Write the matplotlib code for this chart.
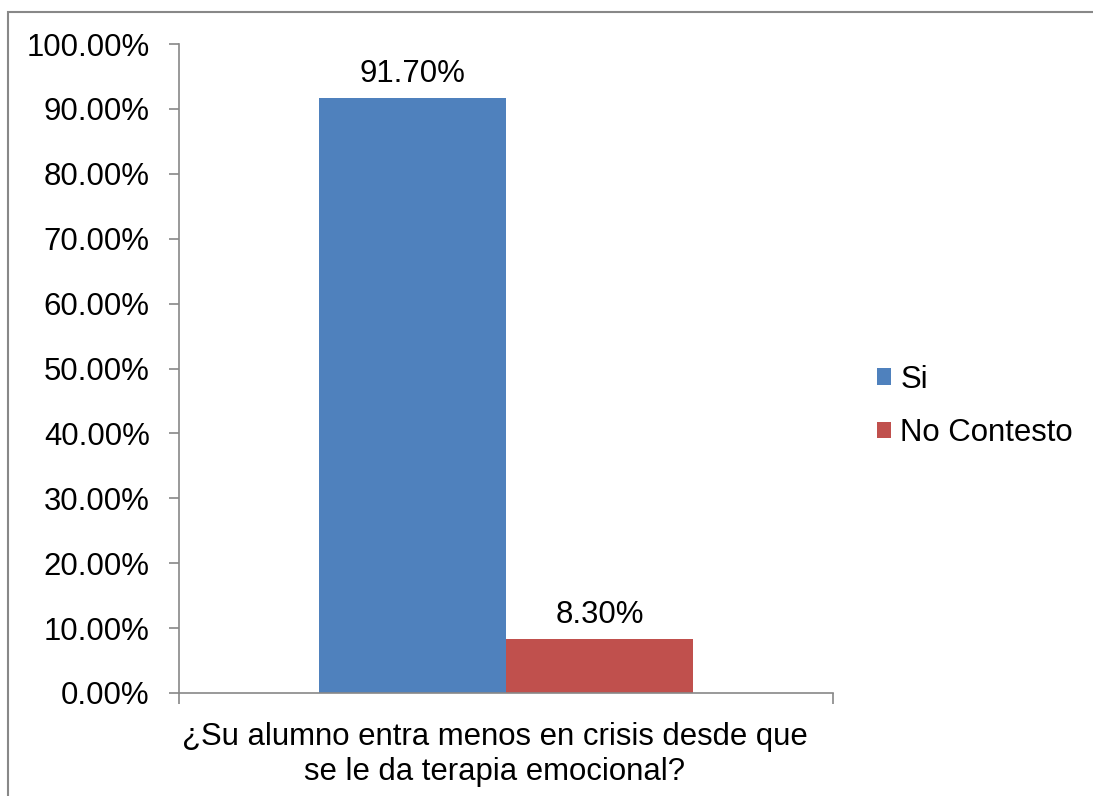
import matplotlib.pyplot as plt
from matplotlib.patches import Patch, Rectangle
from matplotlib.ticker import FuncFormatter

plt.rcParams['font.family'] = ['Liberation Sans', 'DejaVu Sans']

question = "¿Su alumno entra menos en crisis desde que\nse le da terapia emocional?"
series = ["Si", "No Contesto"]
values = [91.70, 8.30]
colors = ["#4F81BD", "#C0504D"]
yticks = [0, 10, 20, 30, 40, 50, 60, 70, 80, 90, 100]

FS = 22.4

fig = plt.figure(figsize=(10.93, 7.96), dpi=100)
ax = fig.add_axes([0.1638, 0.1294, 0.5983, 0.8153])

# outer chart frame (only left and top visible in the crop)
fig.patches.append(Rectangle((8 / 1093, -0.1), 1.2, 1 - 12 / 796 + 0.1,
                             transform=fig.transFigure, fill=False,
                             edgecolor="#888888", lw=1.5))

width = 0.286
offsets = [-width / 2, width / 2]
for name, val, col, off in zip(series, values, colors, offsets):
    ax.bar(off, val, width=width, color=col, label=name)
    ax.text(off, val + 1.4, f"{val:.2f}%", ha="center", va="bottom", fontsize=FS)

ax.set_xlim(-0.5, 0.5)
ax.set_ylim(0, 100)
ax.set_yticks(yticks)
ax.yaxis.set_major_formatter(FuncFormatter(lambda v, p: f"{v:.2f}%"))
ax.tick_params(axis="y", labelsize=FS, length=7, width=1.2, color="#888888", pad=14)

# category label, slightly left of centre like the original
ax.set_xticks([])
ax.set_xticks([-0.5, 0.5], minor=True)
ax.tick_params(axis="x", which="minor", length=8, width=1.2, color="#888888")
ax.annotate(question, xy=(0.4825, 0), xycoords="axes fraction",
            xytext=(0, -21), textcoords="offset points",
            ha="center", va="top", multialignment="center", fontsize=FS)

for s in ["top", "right"]:
    ax.spines[s].set_visible(False)
for s in ["left", "bottom"]:
    ax.spines[s].set_color("#888888")
    ax.spines[s].set_linewidth(1.2)

handles = [Patch(facecolor=c, label=n) for n, c in zip(series, colors)]
fig.legend(handles=handles, loc="center left", bbox_to_anchor=(877 / 1093, 1 - 406.5 / 796),
           frameon=False, fontsize=FS, handlelength=0.45, handleheight=0.45,
           handletextpad=0.3, labelspacing=0.75, borderpad=0, borderaxespad=0)

fig.savefig("out.png", dpi=100)
